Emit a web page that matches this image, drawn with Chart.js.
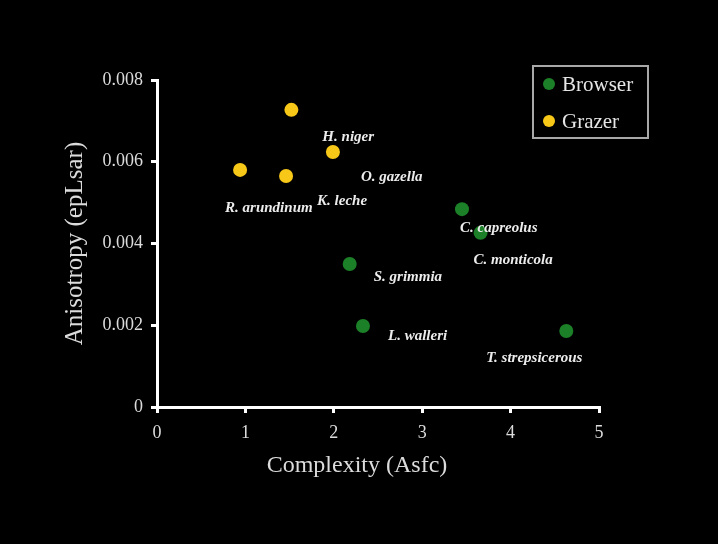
<!DOCTYPE html>
<html>
<head>
<meta charset="utf-8">
<script src="https://cdn.jsdelivr.net/npm/chart.js@4/dist/chart.umd.min.js"></script>
<style>
  html, body { margin: 0; padding: 0; background: #000; }
  #wrap { width: 718px; height: 544px; }
</style>
</head>
<body>
<div id="wrap"><canvas id="chart"></canvas></div>
<script>
// Browser species
const browserNames = ["C. capreolus", "C. monticola", "S. grimmia", "L. walleri", "T. strepsicerous"];
const browserAsfc = [3.45, 3.66, 2.18, 2.33, 4.63];
const browserEpLsar = [0.00484, 0.00426, 0.0035, 0.00198, 0.00186];

// Grazer species
const grazerNames = ["H. niger", "O. gazella", "R. arundinum", "K. leche"];
const grazerAsfc = [1.52, 1.99, 0.94, 1.46];
const grazerEpLsar = [0.00727, 0.00624, 0.0058, 0.00565];

const xTicks = [0, 1, 2, 3, 4, 5];
const yTicks = [0, 0.002, 0.004, 0.006, 0.008];

// label offsets from each point, in pixels
const browserLabelOffsets = [[-2, 19], [-7, 27], [24, 13], [25, 10], [-80, 27]];
const grazerLabelOffsets = [[31, 27], [28, 25], [-15, 38], [31, 25]];

const toPoints = (xs, ys) => xs.map((x, i) => ({ x: x, y: ys[i] }));

const serif = "'Liberation Serif', 'DejaVu Serif', serif";

// draws species names next to their points
const speciesLabels = {
  id: "speciesLabels",
  afterDatasetsDraw(chart) {
    const ctx = chart.ctx;
    ctx.save();
    ctx.font = "bold italic 15px " + serif;
    ctx.fillStyle = "#ececec";
    ctx.textAlign = "left";
    ctx.textBaseline = "middle";
    chart.data.datasets.forEach((ds, i) => {
      chart.getDatasetMeta(i).data.forEach((pt, j) => {
        const off = ds.labelOffsets[j];
        ctx.fillText(ds.names[j], pt.x + off[0], pt.y + off[1]);
      });
    });
    ctx.restore();
  },
};

// boxed legend in the top right corner, plus the x axis title (sits a bit left of centre)
const boxLegend = {
  id: "boxLegend",
  afterDraw(chart) {
    const ctx = chart.ctx;
    const x = 533, y = 66, w = 115, h = 72;
    ctx.save();
    ctx.strokeStyle = "#a8a8a8";
    ctx.lineWidth = 2;
    ctx.strokeRect(x, y, w, h);
    ctx.font = "21px " + serif;
    ctx.textBaseline = "middle";
    chart.data.datasets.forEach((ds, i) => {
      const cy = y + 18 + i * 37;
      ctx.fillStyle = ds.backgroundColor;
      ctx.beginPath();
      ctx.arc(x + 16, cy, 6, 0, Math.PI * 2);
      ctx.fill();
      ctx.fillStyle = "#e6e6e6";
      ctx.fillText(ds.label, x + 29, cy + 1);
    });

    ctx.font = "24px " + serif;
    ctx.fillStyle = "#dcdcdc";
    ctx.textAlign = "center";
    ctx.fillText("Complexity (Asfc)", 357, 466);
    ctx.restore();
  },
};

new Chart(document.getElementById("chart").getContext("2d"), {
  type: "scatter",
  data: {
    datasets: [
      {
        label: "Browser",
        data: toPoints(browserAsfc, browserEpLsar),
        names: browserNames,
        labelOffsets: browserLabelOffsets,
        backgroundColor: "rgb(28, 128, 40)",
        borderWidth: 0,
        pointRadius: 7,
      },
      {
        label: "Grazer",
        data: toPoints(grazerAsfc, grazerEpLsar),
        names: grazerNames,
        labelOffsets: grazerLabelOffsets,
        backgroundColor: "rgb(248, 200, 24)",
        borderWidth: 0,
        pointRadius: 7,
      },
    ],
  },
  options: {
    responsive: true,
    maintainAspectRatio: false,
    animation: false,
    layout: { padding: { left: 0, top: 80, right: 119, bottom: 0 } },
    plugins: {
      legend: { display: false },
      tooltip: { enabled: false },
    },
    scales: {
      x: {
        type: "linear",
        min: 0,
        max: 5,
        afterBuildTicks: (s) => { s.ticks = xTicks.map((v) => ({ value: v })); },
        afterFit: (s) => { s.height = 137; },
        border: { color: "#fff", width: 3 },
        grid: { drawOnChartArea: false, color: "#fff", lineWidth: 3, tickLength: 6 },
        ticks: { color: "#dcdcdc", font: { family: serif, size: 18 }, padding: 9 },
      },
      y: {
        type: "linear",
        min: 0,
        max: 0.008,
        afterBuildTicks: (s) => { s.ticks = yTicks.map((v) => ({ value: v })); },
        afterFit: (s) => { s.width = 157; },
        border: { color: "#fff", width: 3 },
        grid: { drawOnChartArea: false, color: "#fff", lineWidth: 3, tickLength: 6 },
        ticks: {
          color: "#dcdcdc",
          font: { family: serif, size: 18 },
          padding: 8,
          callback: (v) => String(v),
        },
        title: {
          display: true,
          text: "Anisotropy (epLsar)",
          color: "#dcdcdc",
          font: { family: serif, size: 25 },
          padding: { top: 60, bottom: 0 },
        },
      },
    },
  },
  plugins: [speciesLabels, boxLegend],
});
</script>
</body>
</html>
